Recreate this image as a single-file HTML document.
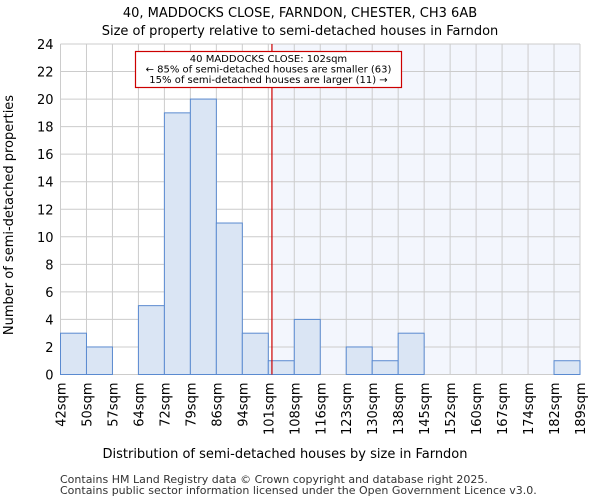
<!DOCTYPE html>
<html><head><meta charset="utf-8"><style>
body{margin:0;background:#fff;font-family:"DejaVu Sans","Liberation Sans",sans-serif;}
svg text{font-family:"DejaVu Sans","Liberation Sans",sans-serif;}
</style></head><body>
<svg id="c" width="600" height="500" xmlns="http://www.w3.org/2000/svg">
<text x="300" y="17" font-size="13" text-anchor="middle">40, MADDOCKS CLOSE, FARNDON, CHESTER, CH3 6AB</text>
<text x="300" y="35" font-size="13" text-anchor="middle">Size of property relative to semi-detached houses in Farndon</text>
<g id="plot"></g>
<text x="285" y="458" font-size="13" text-anchor="middle">Distribution of semi-detached houses by size in Farndon</text>
<text transform="translate(13,215) rotate(-90)" font-size="13" text-anchor="middle">Number of semi-detached properties</text>
<text x="60" y="483" font-size="11" fill="#333">Contains HM Land Registry data © Crown copyright and database right 2025.</text>
<text x="60" y="494" font-size="11" fill="#333">Contains public sector information licensed under the Open Government Licence v3.0.</text>
</svg>
<script>
const binLabels=["42sqm","50sqm","57sqm","64sqm","72sqm","79sqm","86sqm","94sqm","101sqm","108sqm","116sqm","123sqm","130sqm","138sqm","145sqm","152sqm","160sqm","167sqm","174sqm","182sqm","189sqm"];
const counts=[3,2,0,5,19,20,11,3,1,4,0,2,1,3,0,0,0,0,0,1];
const yTicks=[0,2,4,6,8,10,12,14,16,18,20,22,24];
const markerBin=8.14;
const L=60.5,R=580,T=44,B=374.5,yMax=24;
const bw=(R-L)/counts.length;
const xs=i=>L+i*bw, ys=v=>B-(v/yMax)*(B-T);
const g=document.getElementById('plot');
const NS="http://www.w3.org/2000/svg";
function mk(t,a){const e=document.createElementNS(NS,t);for(const k in a)e.setAttribute(k,a[k]);g.appendChild(e);return e;}
const mx=xs(markerBin);
let e=mk('rect',{x:mx,y:T,width:R-mx,height:B-T,fill:'#f3f6fd'});


yTicks.forEach(v=>{const l=mk('line',{x1:L,x2:R,y1:ys(v),y2:ys(v),stroke:'#cccccc'});


const t=mk('text',{x:L-7,y:ys(v)+5,'font-size':13,'text-anchor':'end'});t.textContent=v;

});
binLabels.forEach((s,i)=>{const l=mk('line',{x1:xs(i),x2:xs(i),y1:T,y2:B,stroke:'#cccccc'});


const t=mk('text',{transform:`translate(${xs(i)+5},${B+8}) rotate(-90)`,'font-size':13,'text-anchor':'end'});t.textContent=s;

});
counts.forEach((v,i)=>{if(!v)return;const r=mk('rect',{x:xs(i),y:ys(v),width:bw,height:B-ys(v),fill:'#dae5f4',stroke:'#5a8ad0','stroke-width':1});

});
e=mk('line',{x1:mx,x2:mx,y1:T,y2:B,stroke:'#cc0000','stroke-width':1.2});


e=mk('rect',{x:135.5,y:51.5,width:266,height:36,fill:'#fff',stroke:'#cc0000','stroke-width':1.2});


["40 MADDOCKS CLOSE: 102sqm","← 85% of semi-detached houses are smaller (63)","15% of semi-detached houses are larger (11) →"].forEach((s,i)=>{const t=mk('text',{x:268.5,y:62+i*10.5,'font-size':10,'text-anchor':'middle'});t.textContent=s;

});
</script>
</body></html>
